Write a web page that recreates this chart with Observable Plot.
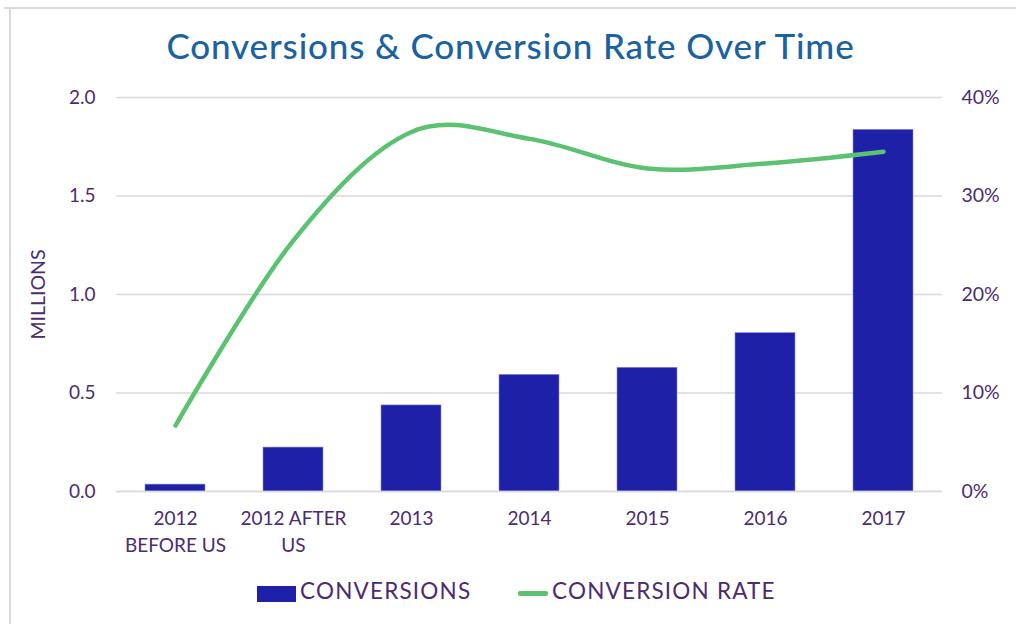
<!DOCTYPE html>
<html>
<head>
<meta charset="utf-8">
<script src="https://cdn.jsdelivr.net/npm/d3@7"></script>
<script src="https://cdn.jsdelivr.net/npm/@observablehq/plot@0.6"></script>
<style>
  html, body { margin: 0; padding: 0; background: #fff; }
  #wrap { position: relative; width: 1021px; height: 624px; overflow: hidden; font-family: Lato, "Open Sans", sans-serif; }
  #frameTop { position: absolute; left: 4px; top: 7px; width: 1012px; height: 2px; background: #d9d9d9; }
  #frameLeft { position: absolute; left: 9px; top: 7px; width: 2px; height: 620px; background: #d9d9d9; }
  #title { position: absolute; left: 0; top: 24px; width: 1021px; text-align: center; font-size: 35px; letter-spacing: 0.85px; color: #1a63a0; font-weight: 500; white-space: nowrap; }
  #chart { position: absolute; left: 0; top: 0; }
  #legend { position: absolute; left: 0; top: 576px; width: 1021px; height: 34px; }
  .lg { position: absolute; top: 0; font-size: 22.5px; letter-spacing: 1.2px; color: #4b2c6f; line-height: 30px; white-space: nowrap; }
</style>
</head>
<body>
<div id="wrap">
  <div id="frameTop"></div>
  <div id="frameLeft"></div>
  <div id="chart"></div>
  <div id="title">Conversions &amp; Conversion Rate Over Time</div>
  <div id="legend">
    <div style="position:absolute;left:257px;top:10px;width:39px;height:16px;background:#1e21a8"></div>
    <div class="lg" style="left:300px;">CONVERSIONS</div>
    <div style="position:absolute;left:518px;top:15px;width:30px;height:5px;border-radius:2px;background:#5bc272"></div>
    <div class="lg" style="left:552px;">CONVERSION RATE</div>
  </div>
</div>
<script>
const categories = ["2012 BEFORE US", "2012 AFTER US", "2013", "2014", "2015", "2016", "2017"];
const categoryLabels = ["2012\nBEFORE US", "2012 AFTER\nUS", "2013", "2014", "2015", "2016", "2017"];
const conversions = [0.035, 0.223, 0.437, 0.592, 0.628, 0.804, 1.836]; // millions
const conversionRate = [6.7, 25.5, 36.5, 35.8, 32.8, 33.3, 34.5]; // percent
const leftTicks = [0, 0.5, 1.0, 1.5, 2.0];
const rightTicks = [0, 10, 20, 30, 40];

const rows = categories.map((c, i) => ({cat: c, conv: conversions[i], rate: conversionRate[i]}));
const rateToY = d3.scaleLinear().domain([0, 40]).range([0, 2]);
const labelOf = Object.fromEntries(categories.map((c, i) => [c, categoryLabels[i]]));

const purple = "#4b2c6f";
const chart = Plot.plot({
  width: 1021,
  height: 624,
  marginTop: 97,
  marginBottom: 133,
  marginLeft: 116,
  marginRight: 79,
  style: {fontFamily: "Lato, 'Open Sans', sans-serif", background: "transparent", color: purple},
  x: {domain: categories, paddingInner: 0.49, paddingOuter: 0.245},
  y: {domain: [0, 2]},
  marks: [
    Plot.gridY(leftTicks, {stroke: "#d9d9d9", strokeOpacity: 1, strokeWidth: 1.3}),
    Plot.barY(rows, {x: "cat", y: "conv", fill: "#1e21a8", stroke: "#8a8bd0", strokeWidth: 0.6}),
    Plot.ruleY([0], {stroke: "#d9d9d9", strokeWidth: 1.5}),
    Plot.line(rows, {x: "cat", y: d => rateToY(d.rate), stroke: "#5bc272", strokeWidth: 4.5, curve: "cardinal", strokeLinecap: "round"}),
    Plot.axisY(leftTicks, {anchor: "left", tickSize: 0, tickPadding: 21, tickFormat: d3.format(".1f"), fontSize: 19, fill: purple, label: null, style: {letterSpacing: "0.5px"}}),
    Plot.axisY(rightTicks.map(t => rateToY(t)), {anchor: "right", tickSize: 0, tickPadding: 19, tickFormat: (d, i) => rightTicks[i] + "%", fontSize: 19.5, fill: purple, label: null, textAnchor: "start", style: {letterSpacing: "0.6px"}}),
    Plot.axisX({tickSize: 0, tickPadding: 14, tickFormat: d => labelOf[d], fontSize: 19, fill: purple, label: null, lineHeight: 1.42, style: {letterSpacing: "0.6px"}}),
    Plot.text(["MILLIONS"], {frameAnchor: "left", dx: -78, rotate: -90, textAnchor: "middle", fontSize: 19.5, fill: purple, style: {letterSpacing: "0.4px"}})
  ]
});
document.getElementById("chart").appendChild(chart);
</script>
</body>
</html>
